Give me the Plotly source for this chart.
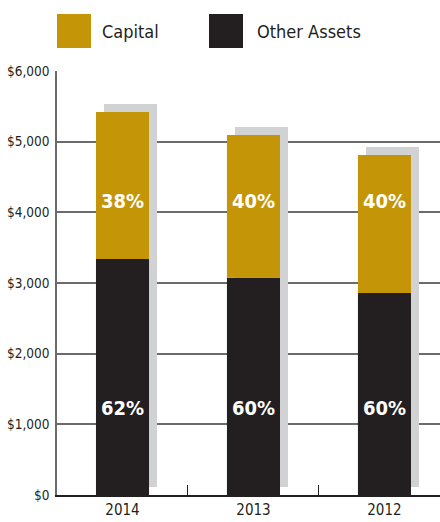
import plotly.graph_objects as go

years = ["2014", "2013", "2012"]
other_assets = [3340, 3075, 2860]
capital = [2080, 2020, 1950]
capital_pct = ["38%", "40%", "40%"]
other_pct = ["62%", "60%", "60%"]
y_tickvals = [0, 1000, 2000, 3000, 4000, 5000, 6000]
y_ticktext = ["$0", "$1,000", "$2,000", "$3,000", "$4,000", "$5,000", "$6,000"]

GOLD = "#C59508"
DARK = "#231F20"
SHADOW = "#D1D2D4"
GRID = "#6B6B6B"
FONT = "DejaVu Sans Condensed, Liberation Sans Narrow, Liberation Sans, sans-serif"

totals = [o + c for o, c in zip(other_assets, capital)]

BAR_W = 0.405
SHADOW_DX = 0.061
SHADOW_DY = 113

fig = go.Figure()
fig.add_trace(go.Bar(x=years, y=totals, base=[SHADOW_DY] * 3, width=BAR_W,
                     offset=-BAR_W / 2 + SHADOW_DX, marker=dict(color=SHADOW, line=dict(width=0)),
                     showlegend=False, hoverinfo="skip"))
fig.add_trace(go.Bar(x=years, y=other_assets, base=[0] * 3, width=BAR_W, offset=-BAR_W / 2,
                     marker=dict(color=DARK, line=dict(width=0)), name="Other Assets", showlegend=False))
fig.add_trace(go.Bar(x=years, y=capital, base=other_assets, width=BAR_W, offset=-BAR_W / 2,
                     marker=dict(color=GOLD, line=dict(width=0)), name="Capital", showlegend=False))

annotations = []
for i, (cp, op) in enumerate(zip(capital_pct, other_pct)):
    annotations.append(dict(x=i, y=4160, text=cp, showarrow=False, xref="x", yref="y",
                            font=dict(family=FONT, size=20, color="white", weight="bold")))
    annotations.append(dict(x=i, y=1230, text=op, showarrow=False, xref="x", yref="y",
                            font=dict(family=FONT, size=20, color="white", weight="bold")))

# legend (custom swatches)
W, H = 440, 522
ml, mr, mt, mb = 57, 0, 71, 27
pw, ph = W - ml - mr, H - mt - mb

def px_x(x):
    return (x - ml) / pw

def px_y(y):
    return (H - mb - y) / ph

shapes = [
    dict(type="rect", xref="paper", yref="paper", x0=px_x(57), x1=px_x(91), y0=px_y(48), y1=px_y(14),
         fillcolor=GOLD, line=dict(width=0)),
    dict(type="rect", xref="paper", yref="paper", x0=px_x(209), x1=px_x(243), y0=px_y(48), y1=px_y(14),
         fillcolor=DARK, line=dict(width=0)),
]
annotations.append(dict(x=px_x(100), y=px_y(32), xref="paper", yref="paper", text="Capital",
                        showarrow=False, xanchor="left", yanchor="middle",
                        font=dict(family=FONT, size=18, color=DARK)))
annotations.append(dict(x=px_x(255), y=px_y(32), xref="paper", yref="paper", text="Other Assets",
                        showarrow=False, xanchor="left", yanchor="middle",
                        font=dict(family=FONT, size=18, color=DARK)))

fig.update_layout(
    width=W, height=H, margin=dict(l=ml, r=mr, t=mt, b=mb, pad=0),
    paper_bgcolor="white", plot_bgcolor="white", barmode="overlay",
    shapes=shapes, annotations=annotations, showlegend=False,
    xaxis=dict(type="category", range=[-0.5, 2.424], showgrid=False, showline=True,
               linecolor=DARK, linewidth=1.5, ticks="inside", ticklen=10, tickwidth=1.2,
               tickcolor=DARK, tickson="boundaries",
               tickfont=dict(family=FONT, size=15, color=DARK), fixedrange=True),
    yaxis=dict(range=[0, 6000], tickvals=y_tickvals, ticktext=y_ticktext, showgrid=True,
               gridcolor=GRID, gridwidth=1.5, showline=True, linecolor=GRID, linewidth=1.5,
               zeroline=False, ticks="", ticklabelstandoff=3,
               tickfont=dict(family=FONT, size=13.5, color=DARK), fixedrange=True),
)

fig.write_html("out.html")
